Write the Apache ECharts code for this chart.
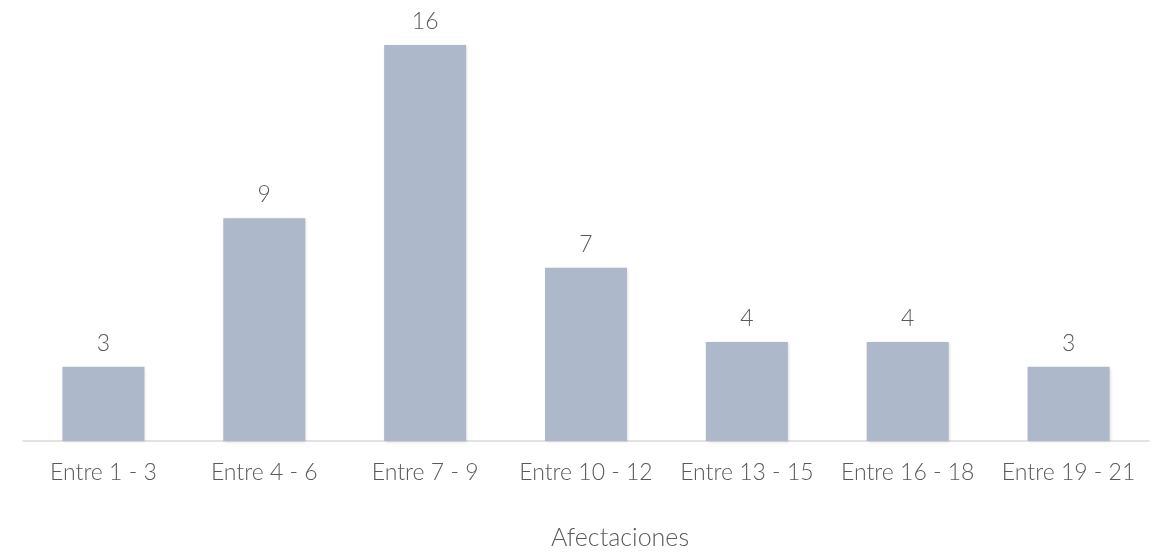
<!DOCTYPE html>
<html><head><meta charset="utf-8">
<script src="https://cdn.jsdelivr.net/npm/echarts@6/dist/echarts.min.js"></script>
<style>html,body{margin:0;padding:0;background:#fff;}#c{width:1158px;height:558px;}</style>
</head><body><div id="c"></div>
<script>
const categories = ['Entre 1 - 3','Entre 4 - 6','Entre 7 - 9','Entre 10 - 12','Entre 13 - 15','Entre 16 - 18','Entre 19 - 21'];
const values = [3, 9, 16, 7, 4, 4, 3];
const axisTitle = 'Afectaciones';
const chart = echarts.init(document.getElementById('c'));
const font = 'Lato, "Noto Sans", sans-serif';
chart.setOption({
  animation: false,
  grid: {left: 23, right: 9, top: 45, bottom: 117, containLabel: false, outerBoundsMode: 'none'},
  xAxis: {
    type: 'category', data: categories,
    name: axisTitle, nameLocation: 'middle', nameGap: 84,
    nameTextStyle: {color: '#595959', fontSize: 25, fontWeight: 300, fontFamily: font, padding: [0, 0, 0, 68]},
    axisLine: {lineStyle: {color: '#D9D9D9', width: 1.5}},
    axisTick: {show: false},
    axisLabel: {color: '#595959', fontSize: 23, fontWeight: 300, fontFamily: font, margin: 20, interval: 0}
  },
  yAxis: {type: 'value', min: 0, max: 16, show: false, splitLine: {show: false}},
  series: [{
    type: 'bar', data: values, barWidth: '51%',
    itemStyle: {color: '#ADB9CA', shadowColor: 'rgba(0,0,0,0.15)', shadowBlur: 3, shadowOffsetX: 1, shadowOffsetY: 1},
    label: {show: true, position: 'top', distance: 12, color: '#595959', fontSize: 23, fontWeight: 300, fontFamily: font}
  }]
});
</script></body></html>
